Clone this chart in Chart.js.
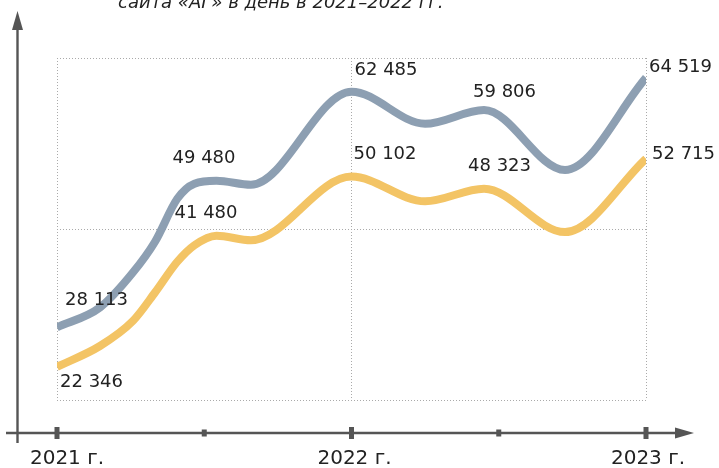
<!DOCTYPE html>
<html>
<head>
<meta charset="utf-8">
<style>
  html, body { margin: 0; padding: 0; background: #ffffff; }
  #wrap { width: 719px; height: 468px; position: relative; overflow: hidden; }
  canvas { display: block; }
</style>
<script src="https://cdn.jsdelivr.net/npm/chart.js@4.4.1/dist/chart.umd.min.js"></script>
</head>
<body>
<div id="wrap"><canvas id="c" width="719" height="468"></canvas></div>
<script>
// ---- data (position in months counted from January 2021) ----
const monthIndex   = [0, 1.75, 3.1, 4.0, 4.9, 5.6, 6.5, 7.9, 12, 15, 17.4, 20.7, 24];
const visitsGrey   = [28113, 31000, 36130, 40630, 46860, 49060, 49480, 48900, 62485, 57800, 59806, 51050, 64519];
const visitsYellow = [22346, 25380, 29060, 33220, 37670, 40090, 41480, 40800, 50102, 46500, 48323, 42000, 52715];
const labelledPoints = [0, 6, 8, 10, 12];
const yearTicks  = [0, 12, 24];
const yearLabels = ['2021 г.', '2022 г.', '2023 г.'];
const halfYearTicks = [6, 18];
const titleText = 'сайта «АГ» в день в 2021–2022 гг.';

const Y_MIN = 17500, Y_MAX = 67400;

function fmt(v) {
  return String(v).replace(/\B(?=(\d{3})+(?!\d))/g, ' ');
}

// label offsets relative to the drawn point (styling only)
const labelOffsets = [
  [[8, -27], [-44, -22], [3, -21], [-11, -18], [3, -10]],
  [[3, 16], [-42, -22], [2, -22], [-16, -22], [6, -4]]
];
const yearLabelShift = [10, 3, 2];

const FONT = '18px "DejaVu Sans", Verdana, sans-serif';
const AXIS_COLOR = '#555555';

const axesPlugin = {
  id: 'axesPlugin',
  afterDraw(chart) {
    const ctx = chart.ctx;
    const xs = chart.scales.x;
    ctx.save();
    // title (partly cut off at top)
    ctx.fillStyle = '#222222';
    ctx.font = 'italic 18px "DejaVu Sans", Verdana, sans-serif';
    ctx.textAlign = 'left';
    ctx.textBaseline = 'alphabetic';
    ctx.fillText(titleText, 118, 8);

    ctx.strokeStyle = AXIS_COLOR;
    ctx.fillStyle = AXIS_COLOR;
    ctx.lineWidth = 2.4;
    // vertical axis
    ctx.beginPath();
    ctx.moveTo(17.5, 28);
    ctx.lineTo(17.5, 443);
    ctx.stroke();
    ctx.beginPath();
    ctx.moveTo(17.5, 11);
    ctx.lineTo(12, 30);
    ctx.lineTo(23, 30);
    ctx.closePath();
    ctx.fill();
    // horizontal axis
    const ay = 433;
    ctx.beginPath();
    ctx.moveTo(6, ay);
    ctx.lineTo(677, ay);
    ctx.stroke();
    ctx.beginPath();
    ctx.moveTo(694, ay);
    ctx.lineTo(675, ay - 5.5);
    ctx.lineTo(675, ay + 5.5);
    ctx.closePath();
    ctx.fill();
    // ticks
    yearTicks.forEach(v => {
      const px = xs.getPixelForValue(v);
      ctx.fillRect(px - 2.5, ay - 6, 5, 12);
    });
    halfYearTicks.forEach(v => {
      const px = xs.getPixelForValue(v);
      ctx.fillRect(px - 2.5, ay - 3.5, 5, 7);
    });
    // year labels
    ctx.fillStyle = '#222222';
    ctx.font = '20px "DejaVu Sans", Verdana, sans-serif';
    ctx.textAlign = 'center';
    ctx.textBaseline = 'middle';
    yearTicks.forEach((v, i) => {
      const px = xs.getPixelForValue(v);
      ctx.fillText(yearLabels[i], px + yearLabelShift[i], 459);
    });
    ctx.restore();
  }
};

const labelPlugin = {
  id: 'labelPlugin',
  afterDatasetsDraw(chart) {
    const ctx = chart.ctx;
    ctx.save();
    ctx.fillStyle = '#222222';
    ctx.font = FONT;
    ctx.textAlign = 'left';
    ctx.textBaseline = 'middle';
    chart.data.datasets.forEach((ds, di) => {
      const meta = chart.getDatasetMeta(di);
      labelledPoints.forEach((idx, k) => {
        const el = meta.data[idx];
        const off = labelOffsets[di][k];
        ctx.fillText(fmt(ds.data[idx].y), el.x + off[0], el.y + off[1]);
      });
    });
    ctx.restore();
  }
};

const gridCommon = {
  color: '#aaaaaa',
  lineWidth: 1,
  drawTicks: false
};

new Chart(document.getElementById('c'), {
  type: 'line',
  data: {
    datasets: [
      {
        label: 'A',
        data: monthIndex.map((m, i) => ({ x: m, y: visitsGrey[i] })),
        borderColor: '#8d9fb2',
        borderWidth: 8,
        borderCapStyle: 'butt',
        pointRadius: 0,
        fill: false,
        cubicInterpolationMode: 'monotone'
      },
      {
        label: 'B',
        data: monthIndex.map((m, i) => ({ x: m, y: visitsYellow[i] })),
        borderColor: '#f3c465',
        borderWidth: 8,
        borderCapStyle: 'butt',
        pointRadius: 0,
        fill: false,
        cubicInterpolationMode: 'monotone'
      }
    ]
  },
  options: {
    responsive: false,
    animation: false,
    devicePixelRatio: 1,
    layout: { padding: { left: 57, right: 73, top: 58, bottom: 68 } },
    plugins: { legend: { display: false }, tooltip: { enabled: false } },
    scales: {
      x: {
        type: 'linear',
        min: 0, max: 24,
        afterBuildTicks: s => { s.ticks = yearTicks.map(v => ({ value: v })); },
        ticks: { display: false },
        grid: gridCommon,
        border: { display: false, dash: [1, 2] }
      },
      y: {
        type: 'linear',
        min: Y_MIN, max: Y_MAX,
        afterBuildTicks: s => { s.ticks = [Y_MIN, (Y_MIN + Y_MAX) / 2, Y_MAX].map(v => ({ value: v })); },
        ticks: { display: false },
        grid: gridCommon,
        border: { display: false, dash: [1, 2] }
      }
    }
  },
  plugins: [axesPlugin, labelPlugin]
});
</script>
</body>
</html>
